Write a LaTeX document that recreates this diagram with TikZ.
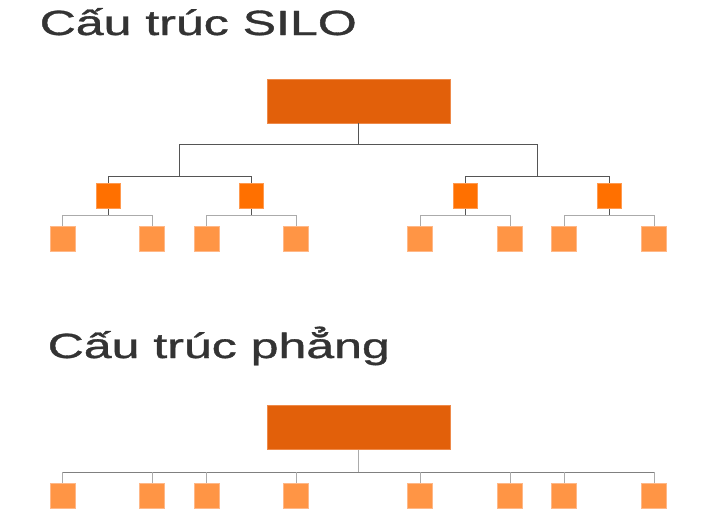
\documentclass[tikz,border=0pt]{standalone}
\usepackage{fontspec}
\setmainfont{Liberation Sans}
\newfontfamily\titlefont[FakeBold=0.9]{Liberation Sans}
\definecolor{topc}{HTML}{E2600A}
\definecolor{topb}{HTML}{EE8A4A}
\definecolor{midc}{HTML}{FF7000}
\definecolor{midb}{HTML}{FF9A50}
\definecolor{leafc}{HTML}{FF9545}
\definecolor{leafb}{HTML}{FFB888}
\definecolor{txt}{HTML}{333333}
\definecolor{darkln}{HTML}{555555}
\definecolor{lightln}{HTML}{ABABAB}
\definecolor{busln}{HTML}{808080}
\tikzset{
  topbox/.style={draw=topb, fill=topc, line width=0.8pt, minimum width=183pt, minimum height=44pt, inner sep=0pt},
  midbox/.style={draw=midb, fill=midc, line width=0.8pt, minimum width=24pt, minimum height=25pt, inner sep=0pt},
  leafbox/.style={draw=leafb, fill=leafc, line width=0.8pt, minimum width=25pt, minimum height=25pt, inner sep=0pt},
  title/.style={anchor=base west, inner sep=0pt, text=txt, font=\titlefont\fontsize{35}{40}\selectfont},
  lvlone/.style={draw=darkln, line width=1pt},
  lvltwo/.style={draw=lightln, line width=1pt},
  busline/.style={draw=busln, line width=1pt}
}
\begin{document}
\begin{tikzpicture}[x=1pt,y=1pt]
\useasboundingbox (0,0) rectangle (720,-525);
% titles
\node[title] (t1) at (39.5,-35) {\scalebox{1.43}[1]{Cấu trúc SILO}};
\node[title] (t2) at (47.5,-358) {\scalebox{1.43}[1]{Cấu trúc phẳng}};
% SILO structure
\node[topbox] (top) at (358.5,-101) {};
\coordinate (j1) at (179.7,-176);
\coordinate (j2) at (537.4,-176);
\node[midbox] (m1) at (108,-196) {};
\node[midbox] (m2) at (251.3,-196) {};
\node[midbox] (m3) at (465.5,-196) {};
\node[midbox] (m4) at (609.3,-196) {};
\foreach \n/\x in {a/62.7,b/152.3,c/206.5,d/296.3,e/420.3,f/510,g/564.3,h/654}{
  \node[leafbox] (l\n) at (\x,-239.2) {};
}
\draw[lvlone] (top.south) -- ++(0,-21) -| (j1);
\draw[lvlone] (top.south) -- ++(0,-21) -| (j2);
\draw[lvlone] (j1) -| (m1.north);
\draw[lvlone] (j1) -| (m2.north);
\draw[lvlone] (j2) -| (m3.north);
\draw[lvlone] (j2) -| (m4.north);
\foreach \m/\p/\q in {m1/a/b,m2/c/d,m3/e/f,m4/g/h}{
  \draw[lvlone] (\m.south) -- ++(0,-7);
  \draw[lvltwo] (\m.south) ++(0,-7) -| (l\p.north);
  \draw[lvltwo] (\m.south) ++(0,-7) -| (l\q.north);
}
% flat structure
\node[topbox] (ftop) at (358.5,-427.8) {};
\foreach \n/\x in {a/62.7,b/152.3,c/206.5,d/296.3,e/420.3,f/510,g/564.3,h/654}{
  \node[leafbox] (f\n) at (\x,-495.7) {};
}
\draw[lvltwo] (ftop.south) -- ++(0,-21.7);
\draw[busline] (fa.north |- 0,-472) -- (fh.north |- 0,-472);
\foreach \n in {a,b,c,d,e,f,g,h}{
  \draw[lvltwo] (f\n.north |- 0,-472) -- (f\n.north);
}
\end{tikzpicture}
\end{document}
